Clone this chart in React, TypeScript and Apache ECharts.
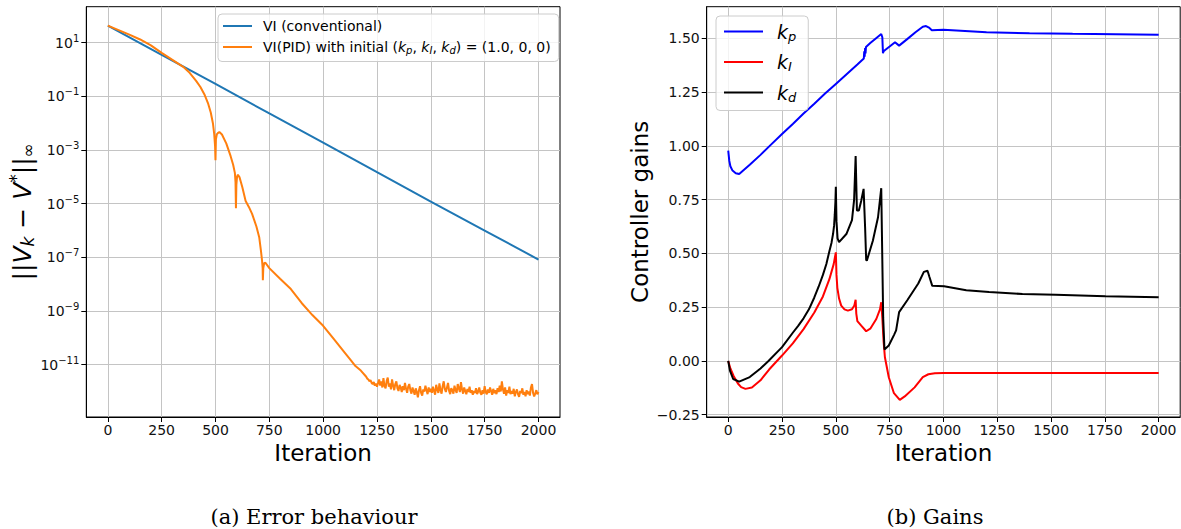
import React, { useEffect, useRef } from 'react';
import * as echarts from 'echarts';

const FONT = 'DejaVu Sans';
const MINUS = '\u2212';

// ---- ticks ----
const xTicks = [0, 250, 500, 750, 1000, 1250, 1500, 1750, 2000];
const errTicks = [1e-11, 1e-9, 1e-7, 1e-5, 1e-3, 1e-1, 1e1];
const gainTicks = [-0.25, 0, 0.25, 0.5, 0.75, 1.0, 1.25, 1.5];

// ---- (a) error behaviour ----
const viIter = [0, 250, 500, 750, 1000, 1250, 1500, 1750, 2000];
const viErr = [43, 3.5, 0.29, 0.023, 1.9e-3, 1.5e-4, 1.2e-5, 1.0e-6, 8.3e-8];

// VI(PID): log10 of the error
const pidIter = [0, 50, 100, 150, 200, 250, 300, 350, 380, 410, 430, 450, 465, 478, 488, 494, 498, 500, 502, 506, 512, 518, 530, 550, 570, 582, 590, 593, 595, 597, 600, 604, 612, 625, 640, 655, 670, 690, 703, 711, 716, 719, 720, 722, 726, 732, 750, 800, 850, 900, 950, 1000, 1050, 1100, 1130, 1150, 1175, 1200];
const pidExp = [1.634, 1.47, 1.30, 1.12, 0.90, 0.62, 0.36, 0.10, -0.12, -0.42, -0.65, -0.95, -1.25, -1.6, -2.0, -2.4, -2.85, -3.38, -2.6, -2.42, -2.36, -2.33, -2.42, -2.75, -3.22, -3.55, -3.85, -4.2, -5.17, -4.3, -4.0, -3.92, -4.02, -4.4, -4.9, -5.12, -5.38, -5.85, -6.25, -6.75, -7.1, -7.4, -7.85, -7.4, -7.22, -7.2, -7.4, -7.8, -8.18, -8.7, -9.15, -9.55, -10.05, -10.55, -10.85, -11.05, -11.22, -11.45];
// noise floor, every 5 iterations from 1205 to 2000 (log10 of error)
const floorStart = 1205;
const floorStep = 5;
const floorExp = [
  -11.52, -11.55, -11.62, -11.58, -11.68, -11.72, -11.65, -11.78, -11.70, -11.82,
  -11.68, -11.55, -11.78, -11.62, -11.85, -11.50, -11.80, -11.88, -11.60, -11.48,
  -11.82, -11.70, -11.92, -11.55, -11.78, -11.95, -11.72, -11.62, -11.88, -11.98,
  -11.75, -11.85, -12.02, -11.80, -11.95, -11.68, -11.90, -12.05, -11.82, -11.72,
  -11.95, -12.08, -11.85, -11.98, -12.12, -11.88, -12.02, -12.22, -11.95, -11.80,
  -12.05, -12.15, -11.92, -12.00, -11.78, -11.95, -12.10, -11.85, -12.02, -11.90,
  -12.05, -11.82, -11.98, -12.12, -11.75, -11.92, -12.05, -11.70, -11.95, -12.08,
  -11.80, -11.62, -11.90, -12.02, -11.85, -11.68, -11.98, -12.10, -11.88, -11.95,
  -12.08, -11.78, -11.95, -12.05, -11.72, -11.88, -12.02, -11.65, -11.92, -12.08,
  -11.85, -11.98, -12.10, -11.90, -12.02, -11.82, -12.05, -11.95, -12.12, -11.98,
  -12.06, -11.88, -12.10, -12.00, -11.85, -12.05, -12.12, -11.95, -12.08, -11.80,
  -12.02, -12.10, -11.92, -12.05, -11.85, -11.98, -12.12, -11.90, -12.06, -11.95,
  -12.10, -11.88, -12.02, -11.78, -12.00, -11.62, -11.92, -12.08, -11.85, -12.15,
  -11.95, -12.05, -11.82, -12.10, -11.98, -12.08, -11.90, -12.18, -12.02, -11.92,
  -12.10, -12.20, -11.98, -12.06, -11.88, -12.12, -12.02, -12.18, -11.95, -12.10,
  -12.00, -12.15, -11.85, -11.72, -12.05, -12.18, -12.08, -11.95, -12.10, -12.02,
];

// ---- (b) gains ----
const kpIter = [0, 5, 10, 20, 35, 51, 100, 150, 200, 250, 300, 350, 400, 450, 500, 550, 600, 630, 632, 634, 636, 638, 640, 660, 690, 711, 716, 719, 722, 729, 750, 775, 794, 830, 870, 904, 919, 935, 946, 1000, 1100, 1200, 1400, 1600, 1800, 2000];
const kpVal = [0.978, 0.93, 0.905, 0.885, 0.873, 0.869, 0.912, 0.958, 1.007, 1.055, 1.102, 1.150, 1.196, 1.243, 1.288, 1.333, 1.378, 1.406, 1.44, 1.415, 1.455, 1.43, 1.46, 1.478, 1.503, 1.52, 1.505, 1.431, 1.44, 1.446, 1.462, 1.482, 1.466, 1.495, 1.528, 1.554, 1.557, 1.548, 1.538, 1.540, 1.534, 1.528, 1.524, 1.521, 1.519, 1.517];

const kiIter = [0, 10, 25, 45, 60, 80, 110, 150, 190, 222, 250, 300, 350, 400, 440, 470, 490, 500, 503, 507, 515, 525, 540, 556, 575, 586, 592, 595, 600, 618, 641, 660, 688, 705, 711, 716, 722, 728, 746, 770, 797, 820, 866, 904, 930, 960, 1000, 2000];
const kiVal = [0, -0.035, -0.07, -0.105, -0.122, -0.130, -0.124, -0.09, -0.04, -0.005, 0.025, 0.082, 0.148, 0.225, 0.30, 0.38, 0.45, 0.505, 0.40, 0.34, 0.29, 0.257, 0.24, 0.234, 0.24, 0.258, 0.284, 0.22, 0.185, 0.164, 0.138, 0.15, 0.195, 0.24, 0.273, 0.2, 0.09, 0.017, -0.076, -0.15, -0.181, -0.165, -0.123, -0.075, -0.062, -0.057, -0.056, -0.056];

const kdIter = [0, 8, 23, 51, 100, 150, 187, 250, 300, 325, 350, 375, 400, 420, 440, 456, 470, 480, 487, 492, 495, 498, 500, 503, 508, 515, 549, 575, 585, 592, 598, 607, 618, 629, 636, 641, 644, 672, 696, 711, 714, 720, 726, 746, 770, 780, 794, 832, 883, 909, 926, 935, 948, 1003, 1106, 1212, 1367, 1521, 1753, 2000];
const kdVal = [0, -0.045, -0.084, -0.096, -0.075, -0.035, 0, 0.064, 0.131, 0.163, 0.198, 0.24, 0.295, 0.345, 0.40, 0.451, 0.51, 0.55, 0.59, 0.63, 0.68, 0.74, 0.81, 0.65, 0.57, 0.552, 0.59, 0.655, 0.75, 0.953, 0.699, 0.699, 0.745, 0.80, 0.62, 0.47, 0.466, 0.559, 0.668, 0.803, 0.6, 0.2, 0.053, 0.072, 0.12, 0.142, 0.227, 0.282, 0.36, 0.414, 0.419, 0.39, 0.349, 0.347, 0.329, 0.321, 0.311, 0.308, 0.301, 0.296];

const zip = (xs: number[], ys: number[]) => xs.map((x, i) => [x, ys[i]]);

const pidData = [
  ...zip(pidIter, pidExp.map((e) => Math.pow(10, e))),
  ...floorExp.map((e, i) => [floorStart + floorStep * i, Math.pow(10, e)]),
];

const tickColor = '#000';
const labelColor = '#111';
const gridLineColor = '#c4c4c4';

const xAxisBase = (gridIndex: number) => ({
  gridIndex,
  type: 'value',
  min: -100,
  max: 2100,
  axisLine: { show: true, onZero: false, lineStyle: { color: '#000', width: 1 } },
  axisTick: { show: true, length: 5, inside: false, lineStyle: { color: tickColor, width: 1 }, customValues: xTicks },
  axisLabel: { color: labelColor, fontFamily: FONT, fontSize: 14, margin: 6, customValues: xTicks, formatter: (v: number) => String(v) },
  splitLine: { show: true, lineStyle: { color: gridLineColor, width: 1 } },
  name: 'Iteration',
  nameLocation: 'middle',
  nameGap: 23,
  nameTextStyle: { fontFamily: FONT, fontSize: 23, color: '#000' },
});

const legendRich = {
  i: { fontFamily: FONT, fontStyle: 'italic', fontSize: 14, color: '#000' },
  s: { fontFamily: FONT, fontStyle: 'italic', fontSize: 10, color: '#000', padding: [7, 0, 0, 0] },
};

const gainRich = {
  k: { fontFamily: FONT, fontStyle: 'italic', fontSize: 19, color: '#000' },
  s: { fontFamily: FONT, fontStyle: 'italic', fontSize: 13, color: '#000', padding: [9, 0, 0, 0] },
};

const option: any = {
  animation: false,
  backgroundColor: '#fff',
  grid: [
    { left: 86.3, top: 6.7, width: 473.7, height: 410.3, show: true, borderColor: '#000', borderWidth: 1, backgroundColor: 'transparent', containLabel: false, outerBoundsMode: 'none' },
    { left: 706.7, top: 6.7, width: 473.5, height: 410.3, show: true, borderColor: '#000', borderWidth: 1, backgroundColor: 'transparent', containLabel: false, outerBoundsMode: 'none' },
  ],
  xAxis: [xAxisBase(0), xAxisBase(1)],
  yAxis: [
    {
      gridIndex: 0,
      type: 'log',
      logBase: 10,
      min: Math.pow(10, -12.95),
      max: Math.pow(10, 2.342),
      axisLine: { show: true, onZero: false, lineStyle: { color: '#000', width: 1 } },
      axisTick: { show: true, length: 5, lineStyle: { color: tickColor, width: 1 }, customValues: errTicks },
      axisLabel: {
        color: labelColor,
        margin: 7,
        customValues: errTicks,
        formatter: (v: number) => {
          const e = Math.round(Math.log10(v));
          return `{b|10}{e|${e < 0 ? MINUS : ''}${Math.abs(e)}}`;
        },
        rich: {
          b: { fontFamily: FONT, fontSize: 14, color: labelColor },
          e: { fontFamily: FONT, fontSize: 10, color: labelColor, padding: [0, 0, 9, 0] },
        },
      },
      splitLine: { show: true, lineStyle: { color: gridLineColor, width: 1 } },
      minorTick: { show: false },
      name: `{a|||}{v|V}{s|k}{a| ${MINUS} }{v|V}{p|*}{a|||}{s|\u221e}`,
      nameLocation: 'middle',
      nameRotate: 90,
      nameGap: 46,
      nameTextStyle: {
        color: '#000',
        rich: {
          a: { fontFamily: FONT, fontSize: 25, color: '#000' },
          v: { fontFamily: FONT, fontStyle: 'italic', fontSize: 25, color: '#000' },
          s: { fontFamily: FONT, fontStyle: 'italic', fontSize: 17, color: '#000', padding: [11, 0, 0, 0] },
          p: { fontFamily: FONT, fontSize: 17, color: '#000', padding: [0, 0, 13, 0] },
        },
      },
    },
    {
      gridIndex: 1,
      type: 'value',
      min: -0.2607,
      max: 1.647,
      axisLine: { show: true, onZero: false, lineStyle: { color: '#000', width: 1 } },
      axisTick: { show: true, length: 5, lineStyle: { color: tickColor, width: 1 }, customValues: gainTicks },
      axisLabel: {
        color: labelColor,
        fontFamily: FONT,
        fontSize: 14,
        margin: 7,
        customValues: gainTicks,
        formatter: (v: number) => v.toFixed(2).replace('-', MINUS),
      },
      splitLine: { show: true, lineStyle: { color: gridLineColor, width: 1 } },
      name: 'Controller gains',
      nameLocation: 'middle',
      nameRotate: 90,
      nameGap: 55,
      nameTextStyle: { fontFamily: FONT, fontSize: 23, color: '#000' },
    },
  ],
  legend: [
    {
      data: ['VI (conventional)', 'VI(PID)'],
      left: 218,
      top: 14,
      orient: 'vertical',
      itemWidth: 29,
      itemHeight: 14,
      itemGap: 7,
      padding: [5, 8, 6, 4],
      backgroundColor: 'rgba(255,255,255,0.8)',
      borderColor: '#cccccc',
      borderWidth: 1,
      borderRadius: 4,
      selectedMode: false,
      itemStyle: { opacity: 0 },
      formatter: (name: string) =>
        name === 'VI(PID)'
          ? `VI(PID) with initial ({i|k}{s|p}, {i|k}{s|I}, {i|k}{s|d}) = (1.0, 0, 0)`
          : name,
      textStyle: { fontFamily: FONT, fontSize: 14, color: '#000', padding: [0, 0, 0, 6], rich: legendRich },
    },
    {
      data: ['kp', 'kI', 'kd'],
      left: 716,
      top: 16,
      orient: 'vertical',
      itemWidth: 39,
      itemHeight: 20,
      itemGap: 10,
      padding: [6, 12, 7, 7],
      backgroundColor: 'rgba(255,255,255,0.8)',
      borderColor: '#cccccc',
      borderWidth: 1,
      borderRadius: 4,
      selectedMode: false,
      itemStyle: { opacity: 0 },
      formatter: (name: string) => `{k|k}{s|${name.slice(1)}}`,
      textStyle: { fontFamily: FONT, fontSize: 19, color: '#000', padding: [0, 0, 0, 9], rich: gainRich },
    },
  ],
  graphic: [
    { type: 'text', x: 314, y: 517, style: { text: '(a) Error behaviour', fontFamily: 'DejaVu Serif', fontSize: 21, fill: '#000', align: 'center', verticalAlign: 'middle' } },
    { type: 'text', x: 935, y: 517, style: { text: '(b) Gains', fontFamily: 'DejaVu Serif', fontSize: 21, fill: '#000', align: 'center', verticalAlign: 'middle' } },
  ],
  series: [
    { type: 'line', name: 'VI (conventional)', xAxisIndex: 0, yAxisIndex: 0, data: zip(viIter, viErr), symbol: 'none', lineStyle: { color: '#1f77b4', width: 2 }, itemStyle: { color: '#1f77b4' } },
    { type: 'line', name: 'VI(PID)', xAxisIndex: 0, yAxisIndex: 0, data: pidData, symbol: 'none', lineStyle: { color: '#ff7f0e', width: 2 }, itemStyle: { color: '#ff7f0e' } },
    { type: 'line', name: 'kp', xAxisIndex: 1, yAxisIndex: 1, data: zip(kpIter, kpVal), symbol: 'none', lineStyle: { color: '#0000ff', width: 2 }, itemStyle: { color: '#0000ff' } },
    { type: 'line', name: 'kI', xAxisIndex: 1, yAxisIndex: 1, data: zip(kiIter, kiVal), symbol: 'none', lineStyle: { color: '#ff0000', width: 2 }, itemStyle: { color: '#ff0000' } },
    { type: 'line', name: 'kd', xAxisIndex: 1, yAxisIndex: 1, data: zip(kdIter, kdVal), symbol: 'none', lineStyle: { color: '#000000', width: 2 }, itemStyle: { color: '#000000' } },
  ],
};

export default function App() {
  const ref = useRef<HTMLDivElement>(null);
  useEffect(() => {
    const chart = echarts.init(ref.current as HTMLDivElement, null, { renderer: 'svg' });
    chart.setOption(option);
    return () => chart.dispose();
  }, []);
  return (
    <div
      ref={ref}
      style={{ position: 'fixed', left: 0, top: 0, width: 1181, height: 529, background: '#fff' }}
    />
  );
}
